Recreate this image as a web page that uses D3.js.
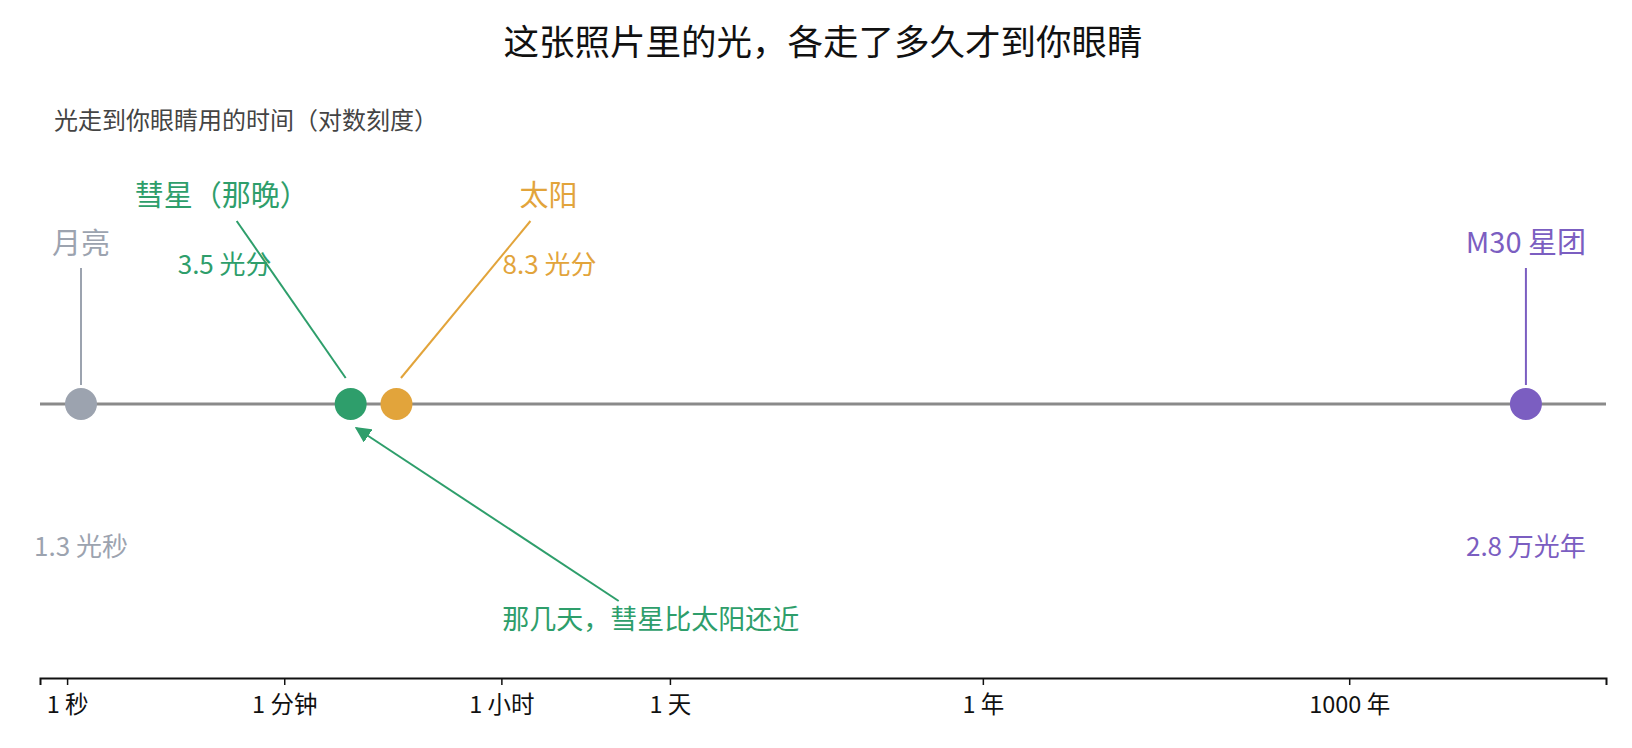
<!DOCTYPE html>
<html><head><meta charset="utf-8">
<script src="https://cdn.jsdelivr.net/npm/d3@7/dist/d3.min.js"></script>
<style>
html,body{margin:0;padding:0;background:#fff;}
svg{display:block;font-family:"Noto Sans CJK SC","Noto Sans",sans-serif;}
</style></head>
<body><svg id="chart" width="1632" height="748"></svg>
<script>
// ---- data ----
const names = ["月亮", "彗星（那晚）", "太阳", "M30 星团"];
const travelSeconds = [1.3, 210, 498, 8.836e11];
const valueLabels = ["1.3 光秒", "3.5 光分", "8.3 光分", "2.8 万光年"];
const tickValues = [1, 60, 3600, 86400, 31557600, 31557600000];
const tickLabels = ["1 秒", "1 分钟", "1 小时", "1 天", "1 年", "1000 年"];
const titleText = "这张照片里的光，各走了多久才到你眼睛";
const subtitleText = "光走到你眼睛用的时间（对数刻度）";
const noteText = "那几天，彗星比太阳还近";

// ---- styles / layout ----
const colors = ["#9ca3af", "#2e9e6b", "#e2a43b", "#7b5ec1"];
const layout = [
  {lx: 0,    ly: 254, vx: 0,    vy: 556, leader: "stem"},
  {lx: -129, ly: 206, vx: -126, vy: 274, leader: "diag", x1: -114, y1: 221, x2: -5, y2: 378},
  {lx: 152,  ly: 206, vx: 153,  vy: 274, leader: "diag", x1: 134,  y1: 221, x2: 4.5, y2: 378},
  {lx: 0,    ly: 253, vx: 0,    vy: 556, leader: "stem"}
];

const svg = d3.select("#chart");
const x = d3.scaleLog().domain([0.6, 4e12]).range([40, 1606]);
const lineY = 404, axisY = 678, r = 16;

// title
svg.append("text").attr("x", 823).attr("y", 55).attr("text-anchor", "middle")
  .attr("font-size", 35.5).attr("fill", "#111").text(titleText);
svg.append("text").attr("x", 54).attr("y", 129)
  .attr("font-size", 24).attr("fill", "#444").text(subtitleText);

// bottom axis
const axis = d3.axisBottom(x).tickValues(tickValues)
  .tickFormat((d, i) => tickLabels[i]).tickSizeOuter(0).tickSize(7).tickPadding(11);
const ag = svg.append("g").attr("transform", `translate(0,${axisY})`).call(axis);
ag.select(".domain").attr("stroke", "#111").attr("stroke-width", 2);
ag.selectAll(".tick line").attr("stroke", "#111").attr("stroke-width", 1.5);
ag.selectAll(".tick text").attr("font-size", 23.5).attr("fill", "#111")
  .attr("font-family", '"Noto Sans CJK SC",sans-serif');

// main line
svg.append("line").attr("x1", x.range()[0]).attr("x2", x.range()[1])
  .attr("y1", lineY).attr("y2", lineY).attr("stroke", "#8a8a8a").attr("stroke-width", 3);

const items = names.map((n, i) => ({name: n, v: travelSeconds[i], label: valueLabels[i], c: colors[i], L: layout[i], cx: x(travelSeconds[i])}));

// leaders
items.forEach(d => {
  if (d.L.leader === "stem") {
    svg.append("line").attr("x1", d.cx).attr("x2", d.cx).attr("y1", 268).attr("y2", lineY - r - 3)
      .attr("stroke", d.c).attr("stroke-width", 2);
  } else {
    svg.append("line").attr("x1", d.cx + d.L.x1).attr("y1", d.L.y1)
      .attr("x2", d.cx + d.L.x2).attr("y2", d.L.y2)
      .attr("stroke", d.c).attr("stroke-width", 2);
  }
});

// circles
svg.selectAll("circle.pt").data(items).join("circle").attr("class", "pt")
  .attr("cx", d => d.cx).attr("cy", lineY).attr("r", r).attr("fill", d => d.c);

// name labels
svg.selectAll("text.name").data(items).join("text").attr("class", "name")
  .attr("x", d => d.cx + d.L.lx).attr("y", d => d.L.ly).attr("text-anchor", "middle")
  .attr("font-size", 29).attr("fill", d => d.c).text(d => d.name);

// value labels
svg.selectAll("text.val").data(items).join("text").attr("class", "val")
  .attr("x", d => d.cx + d.L.vx).attr("y", d => d.L.vy).attr("text-anchor", "middle")
  .attr("font-size", 26).attr("fill", d => d.c).text(d => d.label);

// arrow annotation
const comet = items[1];
const defs = svg.append("defs");
defs.append("marker").attr("id", "arr").attr("viewBox", "0 0 10 10").attr("refX", 9).attr("refY", 5)
  .attr("markerWidth", 8).attr("markerHeight", 8).attr("markerUnits", "strokeWidth").attr("orient", "auto")
  .append("path").attr("d", "M0,0 L10,5 L0,10 Z").attr("fill", comet.c);
svg.append("line").attr("x1", comet.cx + 268).attr("y1", 601)
  .attr("x2", comet.cx + 5.5).attr("y2", 428)
  .attr("stroke", comet.c).attr("stroke-width", 2).attr("marker-end", "url(#arr)");
svg.append("text").attr("x", comet.cx + 300).attr("y", 629).attr("text-anchor", "middle")
  .attr("font-size", 27).attr("fill", comet.c).text(noteText);
</script></body></html>
